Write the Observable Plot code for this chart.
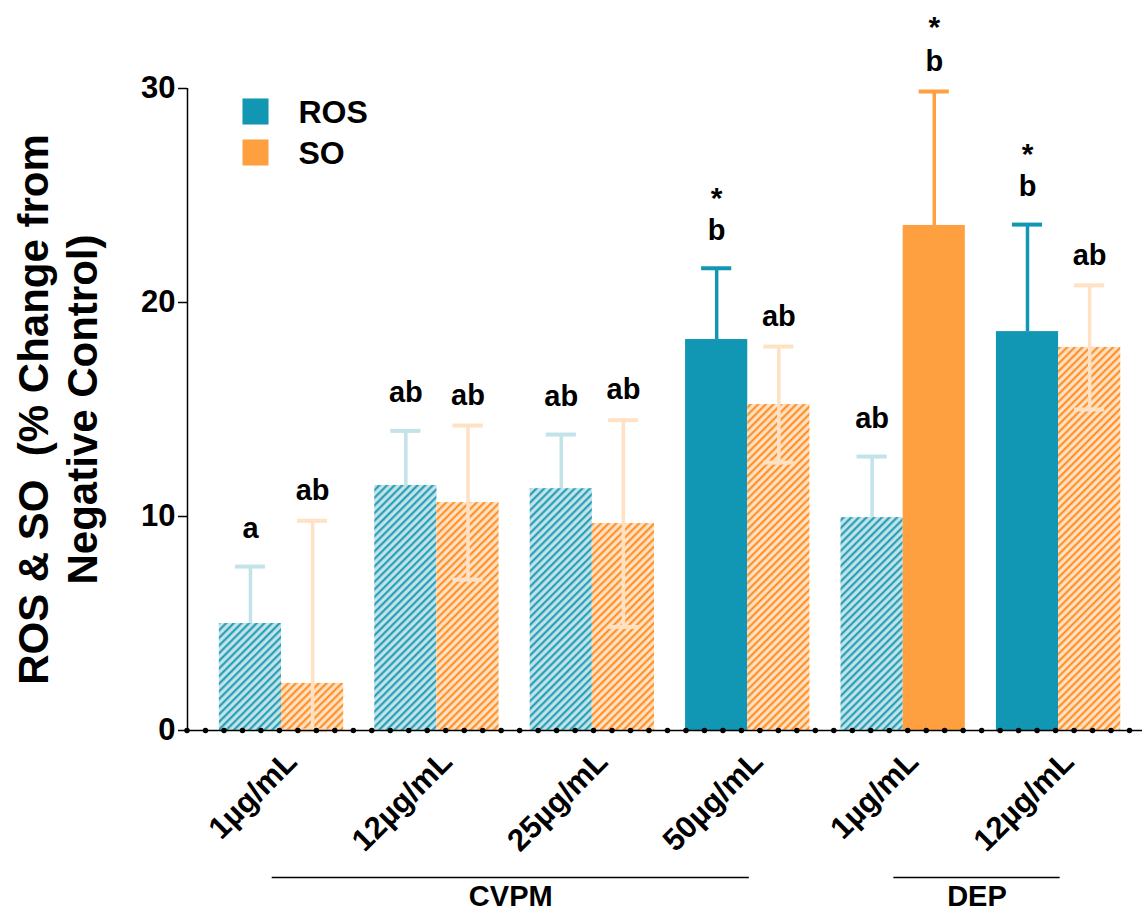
<!DOCTYPE html>
<html><head><meta charset="utf-8">
<script src="https://cdn.jsdelivr.net/npm/d3@7"></script>
<script src="https://cdn.jsdelivr.net/npm/@observablehq/plot@0.6"></script>
<style>body{margin:0;background:#fff} svg text{white-space:pre}</style>
</head><body><div id="chart"></div>
<script>
// ---- data ----
const groups   = ["1µg/mL","12µg/mL","25µg/mL","50µg/mL","1µg/mL","12µg/mL"];
const families = ["CVPM","CVPM","CVPM","CVPM","DEP","DEP"];
const series   = ["ROS","SO"];
const rosMean  = [5.0, 11.45, 11.3, 18.27, 9.95, 18.64];
const rosSD    = [2.66, 2.55, 2.53, 3.33, 2.85, 5.0];
const soMean   = [2.2, 10.65, 9.67, 15.23, 23.6, 17.9];
const soSD     = [7.6, 3.6, 4.83, 2.71, 6.26, 2.9];
const rosLetters = ["a","ab","ab","b","ab","b"];
const soLetters  = ["ab","ab","ab","ab","b","ab"];
const rosStar  = [false,false,false,true,false,true];
const soStar   = [false,false,false,false,true,false];
const yTicks   = [0,10,20,30];
const yTitle   = "ROS & SO  (% Change from\nNegative Control)";

// ---- styles ----
const solid  = {ROS:"#1197b3", SO:"#ffa040"};
const light  = {ROS:"#c2e3e7", SO:"#ffe1c4"};
const stripe = {ROS:"#1a98b3", SO:"#ff8a1a"};
const xMin = -0.605, xMax = 5.54;
const barW = 0.4, capHalf = 0.097;
const P = 5.4; // hatch period

const rows = groups.flatMap((g, i) => series.map((s, k) => {
  const mean = k ? soMean[i] : rosMean[i];
  const sd = k ? soSD[i] : rosSD[i];
  const star = k ? soStar[i] : rosStar[i];
  return {
    i, s, k, mean, sd, star,
    hatched: !star,
    x1: k ? i : i - barW, x2: k ? i + barW : i,
    cx: k ? i + barW / 2 : i - barW / 2,
    top: mean + sd,
    low: Math.max(0, mean - sd),
    twoSided: k === 1 && !star,
    letter: k ? soLetters[i] : rosLetters[i],
    stroke: star ? solid[s] : light[s]
  };
}));

const brackets = [];
families.forEach((f, i) => {
  const last = brackets[brackets.length - 1];
  if (last && last.name === f) last.end = i; else brackets.push({name: f, start: i, end: i});
});

const marks = [];
for (const s of series) {
  marks.push(Plot.rectY(rows.filter(d => d.s === s && !d.hatched), {x1: "x1", x2: "x2", y1: 0, y2: "mean", fill: solid[s]}));
  marks.push(Plot.rectY(rows.filter(d => d.s === s && d.hatched), {x1: "x1", x2: "x2", y1: 0, y2: "mean", fill: `url(#hatch${s})`}));
}
marks.push(Plot.ruleX(rows, {x: "cx", y1: d => d.twoSided ? d.low : d.mean, y2: "top", stroke: "stroke", strokeWidth: 3.5}));
marks.push(Plot.ruleY(rows, {y: "top", x1: d => d.cx - capHalf, x2: d => d.cx + capHalf, stroke: "stroke", strokeWidth: 4}));
marks.push(Plot.ruleY(rows.filter(d => d.twoSided), {y: "low", x1: d => d.cx - capHalf, x2: d => d.cx + capHalf, stroke: "stroke", strokeWidth: 4}));
marks.push(Plot.text(rows.filter(d => d.k === 0), {x: "cx", y: "top", text: "letter", dy: -38, fontSize: 29, fontWeight: "bold", fill: "#000"}));
marks.push(Plot.text(rows.filter(d => d.k === 1), {x: "cx", y: "top", text: "letter", dy: -30, fontSize: 29, fontWeight: "bold", fill: "#000"}));
marks.push(Plot.text(rows.filter(d => d.k === 0 && d.star), {x: "cx", y: "top", text: () => "*", dy: -70, fontSize: 30, fontWeight: "bold", fill: "#000"}));
marks.push(Plot.text(rows.filter(d => d.k === 1 && d.star), {x: "cx", y: "top", text: () => "*", dy: -64, fontSize: 30, fontWeight: "bold", fill: "#000"}));
marks.push(Plot.axisY({ticks: yTicks, tickSize: 9, tickPadding: 3, fontSize: 31, fontWeight: "bold", stroke: "#000", strokeWidth: 1.5, label: null}));
marks.push(Plot.ruleX([xMin], {y1: 0, y2: 30, stroke: "#000", strokeWidth: 1.5}));
marks.push(Plot.ruleY([0], {stroke: "#000", strokeWidth: 1.5}));
marks.push(Plot.ruleY([0], {stroke: "#000", strokeWidth: 5.5, strokeLinecap: "round", strokeDasharray: "0 18.48"}));
marks.push(Plot.text(groups, {x: (d, i) => i, y: () => 0, text: d => d, rotate: -45, textAnchor: "end", dx: 10, dy: 26, fontSize: 31, fontWeight: "bold", fill: "#000"}));
marks.push(Plot.ruleY(brackets, {y: () => 0, x1: d => d.start - 0.06, x2: d => d.end + 0.01, dy: 147, stroke: "#000", strokeWidth: 1.5}));
marks.push(Plot.text(brackets, {x: d => (d.start - 0.06 + d.end + 0.01) / 2, y: () => 0, text: "name", dy: 166, fontSize: 29, fontWeight: "bold", fill: "#000"}));
marks.push(Plot.text([yTitle], {frameAnchor: "left", text: d => d, rotate: -90, textAnchor: "middle", lineAnchor: "middle", dx: -131, fontSize: 42, lineHeight: 1.17, fontWeight: "bold", fill: "#000"}));
series.forEach((s, k) => {
  marks.push(Plot.dot([s], {frameAnchor: "top-left", dx: 68, dy: 23 + k * 41, symbol: "square", r: 14.7, fill: solid[s], stroke: null}));
  marks.push(Plot.text([s], {frameAnchor: "top-left", dx: 111, dy: 24 + k * 41, text: d => d, textAnchor: "start", lineAnchor: "middle", fontSize: 32, fontWeight: "bold", fill: "#000"}));
});

const svg = Plot.plot({
  width: 1142, height: 913,
  marginLeft: 187, marginRight: 0, marginTop: 88, marginBottom: 183,
  x: {type: "linear", domain: [xMin, xMax], axis: null},
  y: {domain: [0, 30], axis: null},
  style: {fontFamily: "'Liberation Sans', Arial, sans-serif", fontWeight: "bold", color: "#000", background: "#fff", overflow: "visible"},
  marks
});

const ns = "http://www.w3.org/2000/svg";
const defs = document.createElementNS(ns, "defs");
for (const s of series) {
  const p = document.createElementNS(ns, "pattern");
  p.setAttribute("id", `hatch${s}`);
  p.setAttribute("patternUnits", "userSpaceOnUse");
  p.setAttribute("width", P); p.setAttribute("height", P);
  p.setAttribute("patternTransform", "rotate(45)");
  const r = document.createElementNS(ns, "rect");
  r.setAttribute("width", P); r.setAttribute("height", P); r.setAttribute("fill", light[s]);
  const l = document.createElementNS(ns, "line");
  l.setAttribute("x1", 1.2); l.setAttribute("x2", 1.2); l.setAttribute("y1", -1); l.setAttribute("y2", P + 1);
  l.setAttribute("stroke", stripe[s]); l.setAttribute("stroke-width", 2);
  p.append(r, l); defs.append(p);
}
svg.insertBefore(defs, svg.firstChild);
document.getElementById("chart").append(svg);
</script></body></html>
